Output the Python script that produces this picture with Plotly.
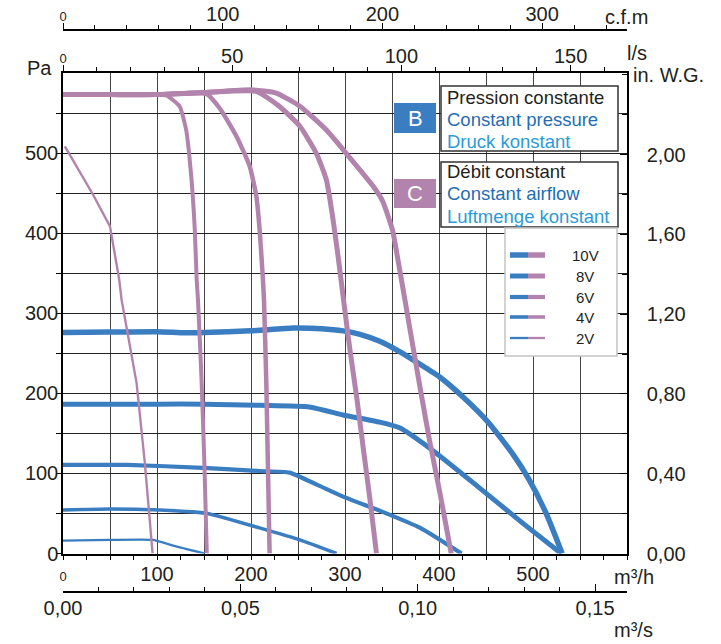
import plotly.graph_objects as go

# ---------------- DATA ----------------
voltages = ["10V", "8V", "6V", "4V", "2V"]

# B : constant pressure (blue)  -- airflow m3/h, pressure Pa
b10_q = [0, 50, 100, 130, 150, 200, 245, 275, 298, 315, 337, 358, 400, 425, 453, 478, 496, 514, 531]
b10_p = [276, 276.5, 277, 275.6, 276, 278, 281.5, 280.6, 278, 274, 265, 252, 221, 196, 163, 125, 92, 50, 0]
b8_q = [0, 50, 100, 150, 209, 262, 298, 337, 358, 393, 443, 489, 530]
b8_p = [186.5, 186.5, 186.5, 186.5, 185, 183, 173, 164, 157, 129, 82, 38, 0]
b6_q = [0, 68, 149, 209, 241, 270, 298, 340, 380, 424]
b6_p = [110.6, 110.6, 107, 103, 101, 86, 71, 52, 32, 0]
b4_q = [0, 50, 103, 138, 156, 209, 252, 291]
b4_p = [54.4, 55.6, 54.4, 52, 49.4, 32, 17, 0]
b2_q = [0, 50, 96, 103, 121, 151]
b2_p = [16, 17, 17, 14.8, 8.5, 0]

# C : constant airflow (mauve)
c10_q = [0, 50, 100, 150, 200, 227, 252, 280, 301, 330, 340, 350.5, 356.3, 363.7, 376, 389.8, 401, 413]
c10_p = [573, 573, 573, 575.5, 579, 575, 558.5, 529, 500, 458.5, 440, 404, 367, 317, 233, 142, 75.6, 0]
c8_q = [0, 50, 100, 150, 205.6, 230, 252, 269.4, 280.1, 287.3, 293.1, 298.4, 305.3, 312.8, 319.7, 326.6, 333.5]
c8_p = [573, 573, 573, 575.5, 577, 558.5, 533.5, 500, 467, 417, 367, 317, 254, 192, 129, 67, 0]
c6_q = [0, 50, 100, 152.6, 166.7, 184.5, 198.6, 205.7, 209.2, 212.7, 213.8, 216.3, 218, 219.8]
c6_p = [573, 573, 573, 574, 556, 521, 483.5, 446, 404, 342, 317, 213, 108.5, 0]
c4_q = [0, 50, 100, 110, 124, 131, 136.7, 140.2, 142.2, 143.6, 147.5, 150.5, 153]
c4_p = [573, 573, 573, 572, 558.5, 529, 467, 404, 342, 317, 213, 108.5, 0]
c2_q = [2, 32, 50, 55.2, 59.8, 62.3, 78.3, 87.1, 95.3]
c2_p = [508.5, 448, 408.5, 375, 342, 317, 212.7, 112.7, 0]

# axis tick values
pa_ticks = [0, 50, 100, 150, 200, 250, 300, 350, 400, 450, 500, 550]
pa_labels = ["0", "", "100", "", "200", "", "300", "", "400", "", "500", ""]
m3h_ticks = [0, 50, 100, 150, 200, 250, 300, 350, 400, 450, 500, 550]
m3h_labels = ["<span style='font-size:13px'>0</span>", "", "100", "", "200", "", "300", "", "400", "", "500", ""]
ls_ticks = [0, 50, 100, 150]
ls_labels = ["<span style='font-size:13px'>0</span>", "50", "100", "150"]
cfm_ticks = [0, 100, 200, 300]
cfm_labels = ["<span style='font-size:13px'>0</span>", "100", "200", "300"]
m3s_ticks = [0, 0.05, 0.10, 0.15]
m3s_labels = ["0,00", "0,05", "0,10", "0,15"]
inwg_ticks = [0, 0.4, 0.8, 1.2, 1.6, 2.0]
inwg_labels = ["0,00", "0,40", "0,80", "1,20", "1,60", "2,00"]

# ---------------- STYLE ----------------
BLUE = "#3b7dc1"
MAUVE = "#b283ac"
DARK = "#231f20"
FONT = "Liberation Sans, Arial, sans-serif"
widths = {"10V": 5.5, "8V": 5.0, "6V": 4.2, "4V": 3.6, "2V": 2.3}
cwidths = {"10V": 5.0, "8V": 5.0, "6V": 4.5, "4V": 4.0, "2V": 2.4}

W, H = 721, 644
ML, MR, MT, MB = 63, 94, 30, 52
PW, PH = W - ML - MR, H - MT - MB


def px(x):
    return (x - ML) / PW


def py(y):
    return (H - MB - y) / PH


blue_series = [(b10_q, b10_p), (b8_q, b8_p), (b6_q, b6_p), (b4_q, b4_p), (b2_q, b2_p)]
mauve_series = [(c10_q, c10_p), (c8_q, c8_p), (c6_q, c6_p), (c4_q, c4_p), (c2_q, c2_p)]

fig = go.Figure()
for v, (q, p) in zip(voltages, blue_series):
    fig.add_trace(go.Scatter(x=q, y=p, mode="lines", name="B " + v,
                             line=dict(color=BLUE, width=widths[v], shape="spline", smoothing=0.5),
                             hoverinfo="skip"))
for v, (q, p) in zip(voltages, mauve_series):
    fig.add_trace(go.Scatter(x=q, y=p, mode="lines", name="C " + v,
                             line=dict(color=MAUVE, width=cwidths[v],
                                       shape="linear" if v == "2V" else "spline", smoothing=0.5),
                             hoverinfo="skip"))

# dummy traces to activate secondary axes
for xa, ya in [("x2", "y"), ("x3", "y"), ("x4", "y"), ("x", "y2")]:
    fig.add_trace(go.Scatter(x=[None], y=[None], xaxis=xa, yaxis=ya, showlegend=False, hoverinfo="skip"))

ydom = [py(553.5), py(73)]
tickfont = dict(family=FONT, size=20, color=DARK)
common = dict(showline=True, linecolor="black", linewidth=1.5, zeroline=False, automargin=False,
              tickcolor="black", tickwidth=1.3, tickfont=tickfont)

fig.update_layout(
    width=W, height=H,
    margin=dict(l=ML, r=MR, t=MT, b=MB, autoexpand=False),
    paper_bgcolor="white", plot_bgcolor="white",
    showlegend=False,
    font=dict(family=FONT, color=DARK),
    xaxis=dict(range=[0, 600], domain=[0, 1], anchor="y", tickmode="array",
               tickvals=m3h_ticks, ticktext=m3h_labels, ticks="outside", ticklen=5,
               showgrid=True, gridcolor="#444444", gridwidth=1.3, ticklabelstandoff=-3,
               minor=dict(dtick=25, tick0=0, ticks="outside", ticklen=5, tickcolor="black",
                          tickwidth=1.2, showgrid=False),
               **common),
    yaxis=dict(range=[0, 600], domain=ydom, anchor="x", tickmode="array",
               tickvals=pa_ticks, ticktext=pa_labels, ticks="outside", ticklen=5,
               ticklabelstandoff=-6,
               showgrid=True, gridcolor="#222222", gridwidth=1.3, **common),
    xaxis2=dict(range=[0, 600 / 3.6], overlaying="x", anchor="y", side="top",
                tickmode="array", tickvals=ls_ticks, ticktext=ls_labels,
                ticks="outside", ticklen=6, showgrid=False, ticklabelstandoff=-6,
                minor=dict(dtick=10, tick0=0, ticks="outside", ticklen=4, tickcolor="black",
                           tickwidth=1.2, showgrid=False),
                **common),
    xaxis3=dict(range=[0, 600 / 1.699], overlaying="x", anchor="free", position=1, side="top",
                tickmode="array", tickvals=cfm_ticks, ticktext=cfm_labels,
                ticks="outside", ticklen=6, showgrid=False, ticklabelstandoff=-6,
                minor=dict(dtick=20, tick0=0, ticks="outside", ticklen=4, tickcolor="black",
                           tickwidth=1.2, showgrid=False),
                **common),
    xaxis4=dict(range=[0, 0.159], overlaying="x", anchor="free", position=0, side="bottom",
                tickmode="array", tickvals=m3s_ticks, ticktext=m3s_labels,
                ticks="inside", ticklen=7, showgrid=False, ticklabelstandoff=-2,
                minor=dict(dtick=0.01, tick0=0, ticks="inside", ticklen=4, tickcolor="black",
                           tickwidth=1.2, showgrid=False),
                **common),
    yaxis2=dict(range=[0, 600 / 249.09], overlaying="y", anchor="x", side="right",
                tickmode="array", tickvals=inwg_ticks, ticktext=inwg_labels,
                ticks="inside", ticklen=7, showgrid=False, ticklabelstandoff=14,
                minor=dict(dtick=0.2, tick0=0, ticks="inside", ticklen=5, tickcolor="black",
                           tickwidth=1.2, showgrid=False),
                **common),
)

ann = []
shapes = []


def text(x, y, s, size=20, color=DARK, xanchor="left", yanchor="middle"):
    ann.append(dict(x=px(x), y=py(y), xref="paper", yref="paper", text=s, showarrow=False,
                    xanchor=xanchor, yanchor=yanchor, font=dict(family=FONT, size=size, color=color)))


# axis titles
text(39, 68, "Pa", xanchor="center")
text(631, 75, "in. W.G.")
text(625, 53, "l/s")
text(603, 17, "c.f.m")
text(612, 577, "m³/h")
text(612, 630, "m³/s")

# B / C boxes
for (y0, y1) in [(86, 151), (162, 227)]:
    shapes.append(dict(type="rect", xref="paper", yref="paper", x0=px(441), x1=px(618),
                       y0=py(y1), y1=py(y0), line=dict(color="#333333", width=1.5),
                       fillcolor="white", layer="above"))
shapes.append(dict(type="rect", xref="paper", yref="paper", x0=px(394), x1=px(436),
                   y0=py(133), y1=py(103), line=dict(width=0), fillcolor=BLUE, layer="above"))
shapes.append(dict(type="rect", xref="paper", yref="paper", x0=px(394), x1=px(436),
                   y0=py(208), y1=py(179), line=dict(width=0), fillcolor=MAUVE, layer="above"))
text(415, 118, "B", size=22, color="white", xanchor="center")
text(415, 194, "C", size=22, color="white", xanchor="center")

text(445, 97, "Pression constante", size=18.5, color=DARK)
text(445, 119, "Constant pressure", size=18.5, color="#1f6db5")
text(445, 141, "Druck konstant", size=18.5, color="#2a9bd6")
text(445, 172, "Débit constant", size=18.5, color=DARK)
text(445, 194, "Constant airflow", size=18.5, color="#1f6db5")
text(445, 216, "Luftmenge konstant", size=18.5, color="#2a9bd6")

# legend box
shapes.append(dict(type="rect", xref="paper", yref="paper", x0=px(505), x1=px(617),
                   y0=py(356), y1=py(228), line=dict(color="#c4c4c4", width=1.5),
                   fillcolor="white", layer="above"))
rows = [255, 276, 297, 317, 338]
for v, ry in zip(voltages, rows):
    shapes.append(dict(type="line", xref="paper", yref="paper", x0=px(510), x1=px(528),
                       y0=py(ry), y1=py(ry), line=dict(color=BLUE, width=widths[v]), layer="above"))
    shapes.append(dict(type="line", xref="paper", yref="paper", x0=px(528), x1=px(545),
                       y0=py(ry), y1=py(ry), line=dict(color=MAUVE, width=widths[v]), layer="above"))
    text(585, ry, v, size=15, xanchor="center")

fig.update_layout(annotations=ann, shapes=shapes)
fig.write_html("out.html", config={"displayModeBar": False},
               post_script="document.body.style.margin='0px';")
